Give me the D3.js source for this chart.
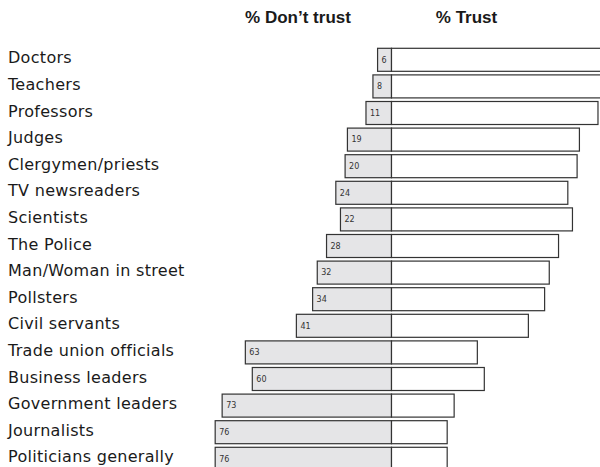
<!DOCTYPE html>
<html lang="en">
  <head>
    <meta charset="UTF-8" />
    <title>Trust</title>
    <style>
      body { margin: 0; background: #fff; }
      text { font-family: "DejaVu Sans", sans-serif; fill: #1a1a1a; }
    </style>
  </head>
  <body>
    <div id="wrapper"></div>
    <script src="https://cdn.jsdelivr.net/npm/d3@7"></script>
    <script>
      // categories, top to bottom
      const groups = ["Doctors", "Teachers", "Professors", "Judges", "Clergymen/priests",
        "TV newsreaders", "Scientists", "The Police", "Man/Woman in street", "Pollsters",
        "Civil servants", "Trade union officials", "Business leaders", "Government leaders",
        "Journalists", "Politicians generally"];
      const dontTrust = [6, 8, 11, 19, 20, 24, 22, 28, 32, 34, 41, 63, 60, 73, 76, 76];
      const trust = [94, 92, 89, 81, 80, 76, 78, 72, 68, 66, 59, 37, 40, 27, 24, 24];
      const headers = ["% Don\u2019t trust", "% Trust"];

      var width = 600, height = 467;
      var center = 391.5;

      var svg = d3.select("#wrapper").append("svg")
          .attr("width", width)
          .attr("height", height);

      // left side grows to the left from the centre line
      var xLeft = d3.scaleLinear().domain([0, 100]).range([center, center - 232]);
      var xRight = d3.scaleLinear().domain([0, 100]).range([center, center + 232]);

      var y = d3.scaleBand()
          .domain(groups)
          .range([46.5, 46.5 + 16 * 26.6])
          .paddingInner(0.135)
          .paddingOuter(0.0675);

      var rows = svg.selectAll("g.row")
          .data(groups)
          .enter().append("g")
          .attr("class", "row");

      // % Don't trust bars
      rows.append("rect")
          .attr("x", function (d, i) { return xLeft(dontTrust[i]); })
          .attr("y", function (d) { return y(d); })
          .attr("width", function (d, i) { return center - xLeft(dontTrust[i]); })
          .attr("height", y.bandwidth())
          .style("fill", "#e5e5e7")
          .style("stroke", "#333")
          .style("stroke-width", 1.2);

      // % Trust bars
      rows.append("rect")
          .attr("x", center)
          .attr("y", function (d) { return y(d); })
          .attr("width", function (d, i) { return xRight(trust[i]) - center; })
          .attr("height", y.bandwidth())
          .style("fill", "#fff")
          .style("stroke", "#333")
          .style("stroke-width", 1.2);

      // values inside the grey bars
      rows.append("text")
          .attr("x", function (d, i) { return xLeft(dontTrust[i]) + 4; })
          .attr("y", function (d) { return y(d) + y.bandwidth() / 2; })
          .attr("dy", "0.35em")
          .style("font-size", "8px")
          .style("fill", "#333")
          .text(function (d, i) { return dontTrust[i]; });

      // category labels
      rows.append("text")
          .attr("x", 8)
          .attr("y", function (d) { return y(d) + y.bandwidth() / 2 - 2; })
          .attr("dy", "0.35em")
          .style("font-size", "16px")
          .style("letter-spacing", "0.3px")
          .text(function (d) { return d; });

      // column headers
      svg.selectAll("text.head")
          .data(headers)
          .enter().append("text")
          .attr("class", "head")
          .attr("x", function (d, i) { return i === 0 ? 298 : 466.5; })
          .attr("y", 17)
          .attr("dy", "0.35em")
          .attr("text-anchor", "middle")
          .style("font-family", "'Liberation Sans', Arial, sans-serif")
          .style("font-size", "17px")
          .style("font-weight", "bold")
          .text(function (d) { return d; });
    </script>
  </body>
</html>
